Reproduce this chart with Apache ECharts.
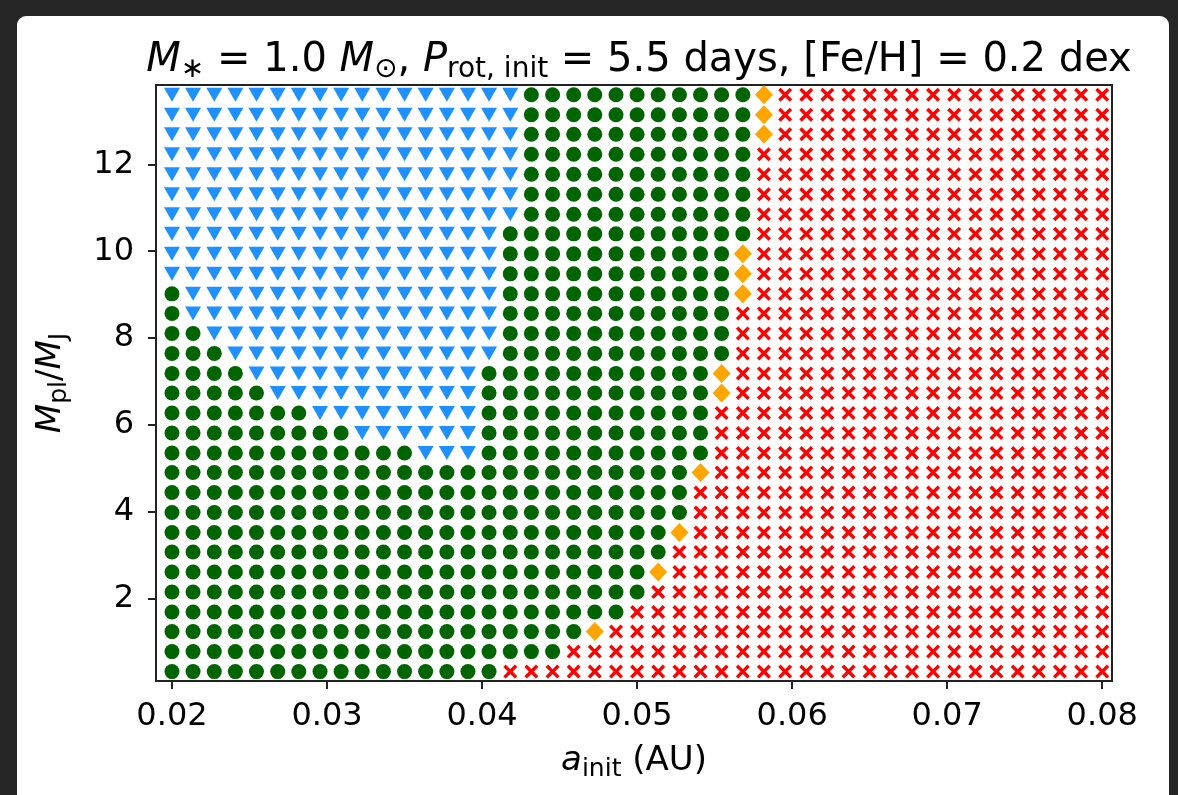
<!DOCTYPE html>
<html>
<head>
<meta charset="utf-8">
<title>Planet outcome grid</title>
<script src="https://cdn.jsdelivr.net/npm/echarts@6/dist/echarts.min.js"></script>
<style>
  html, body { margin: 0; padding: 0; width: 1178px; height: 795px; overflow: hidden;
    background: #262626; }
  #card { position: absolute; left: 17px; top: 16px; width: 1152px; height: 790px;
    background: #ffffff; border-radius: 9px; }
  #chart { position: absolute; left: 0; top: 0; width: 1178px; height: 795px; }
</style>
</head>
<body>
<div id="card"></div>
<div id="chart"></div>
<script>
// Initial semi-major axis grid (AU), one value per column
const aInit = [
  0.02000, 0.02136, 0.02273, 0.02409, 0.02545, 0.02682, 0.02818, 0.02955, 0.03091,
  0.03227, 0.03364, 0.03500, 0.03636, 0.03773, 0.03909, 0.04045, 0.04182, 0.04318,
  0.04455, 0.04591, 0.04727, 0.04864, 0.05000, 0.05136, 0.05273, 0.05409, 0.05545,
  0.05682, 0.05818, 0.05955, 0.06091, 0.06227, 0.06364, 0.06500, 0.06636, 0.06773,
  0.06909, 0.07045, 0.07182, 0.07318, 0.07455, 0.07591, 0.07727, 0.07864, 0.08000
];

// Planet mass grid (Jupiter masses), one value per row, bottom to top
const mPl = [
  0.33, 0.79, 1.25, 1.70, 2.16, 2.62, 3.08, 3.53, 3.99, 4.45,
  4.91, 5.36, 5.82, 6.28, 6.74, 7.19, 7.65, 8.11, 8.57, 9.02,
  9.48, 9.94, 10.40, 10.85, 11.31, 11.77, 12.23, 12.69, 13.14, 13.60
];

// Outcome of each run, as [code, count] runs across the columns of a row.
// T = triangle (blue), G = circle (green), D = diamond (orange), X = cross (red)
// Rows listed bottom to top, matching mPl.
const outcomeRuns = [
  [['G', 16], ['X', 29]],
  [['G', 19], ['X', 26]],
  [['G', 20], ['D', 1], ['X', 24]],
  [['G', 22], ['X', 23]],
  [['G', 23], ['X', 22]],
  [['G', 23], ['D', 1], ['X', 21]],
  [['G', 24], ['X', 21]],
  [['G', 24], ['D', 1], ['X', 20]],
  [['G', 25], ['X', 20]],
  [['G', 25], ['X', 20]],
  [['G', 25], ['D', 1], ['X', 19]],
  [['G', 12], ['T', 3], ['G', 11], ['X', 19]],
  [['G', 9], ['T', 6], ['G', 11], ['X', 19]],
  [['G', 7], ['T', 8], ['G', 11], ['X', 19]],
  [['G', 5], ['T', 10], ['G', 11], ['D', 1], ['X', 18]],
  [['G', 4], ['T', 11], ['G', 11], ['D', 1], ['X', 18]],
  [['G', 3], ['T', 13], ['G', 11], ['X', 18]],
  [['G', 2], ['T', 14], ['G', 11], ['X', 18]],
  [['G', 1], ['T', 15], ['G', 11], ['X', 18]],
  [['G', 1], ['T', 15], ['G', 11], ['D', 1], ['X', 17]],
  [['T', 16], ['G', 11], ['D', 1], ['X', 17]],
  [['T', 16], ['G', 11], ['D', 1], ['X', 17]],
  [['T', 16], ['G', 12], ['X', 17]],
  [['T', 17], ['G', 11], ['X', 17]],
  [['T', 17], ['G', 11], ['X', 17]],
  [['T', 17], ['G', 11], ['X', 17]],
  [['T', 17], ['G', 11], ['X', 17]],
  [['T', 17], ['G', 11], ['D', 1], ['X', 16]],
  [['T', 17], ['G', 11], ['D', 1], ['X', 16]],
  [['T', 17], ['G', 11], ['D', 1], ['X', 16]]
];

// Tick positions and labels
const xTicks = [0.02, 0.03, 0.04, 0.05, 0.06, 0.07, 0.08];
const xTickLabels = ['0.02', '0.03', '0.04', '0.05', '0.06', '0.07', '0.08'];
const yTicks = [2, 4, 6, 8, 10, 12];
const yTickLabels = ['2', '4', '6', '8', '10', '12'];

// Split the grid into one point list per outcome
const points = { T: [], G: [], D: [], X: [] };
outcomeRuns.forEach(function (runs, r) {
  let c = 0;
  runs.forEach(function (run) {
    for (let k = 0; k < run[1]; k++) {
      points[run[0]].push([aInit[c], mPl[r]]);
      c++;
    }
  });
});

const FONT = 'DejaVu Sans';
// Rich-text styles: italic symbol, normal text, lowered subscript
function richSet(size, lineH, subSize) {
  return {
    i: { fontStyle: 'italic', fontWeight: 'normal', fontFamily: FONT, fontSize: size, lineHeight: lineH, color: '#000' },
    n: { fontWeight: 'normal', fontFamily: FONT, fontSize: size, lineHeight: lineH, color: '#000' },
    sub: { fontWeight: 'normal', fontFamily: FONT, fontSize: subSize, lineHeight: subSize, verticalAlign: 'bottom', color: '#000' }
  };
}

const crossPath = 'path://M0,3.5L3.5,0L10,6.5L16.5,0L20,3.5L13.5,10L20,16.5L16.5,20L10,13.5L3.5,20L0,16.5L6.5,10Z';

const chart = echarts.init(document.getElementById('chart'), null, { renderer: 'canvas' });
chart.setOption({
  backgroundColor: 'transparent',
  animation: false,
  title: {
    text: '{i|M}{sub|∗}{n| = 1.0 }{i|M}{sub|⊙}{n|, }{i|P}{sub|rot, init}{n| = 5.5 days, [Fe/H] = 0.2 dex}',
    left: 634,
    top: 33,
    textAlign: 'center',
    textStyle: { fontWeight: 'normal', rich: richSet(40, 46, 28) }
  },
  grid: {
    left: 156, right: 66, top: 85, bottom: 114,
    show: true, borderColor: '#222', borderWidth: 2, backgroundColor: 'transparent'
  },
  xAxis: {
    type: 'value',
    min: 0.01897, max: 0.08063,
    name: '{i|a}{sub|init}{n| (AU)}',
    nameLocation: 'middle',
    nameGap: 59,
    nameTextStyle: { rich: richSet(34, 42, 25) },
    axisLine: { show: true, onZero: false, lineStyle: { color: '#222', width: 2 } },
    axisTick: { show: true, length: 8, lineStyle: { color: '#222', width: 2 }, customValues: xTicks },
    axisLabel: {
      customValues: xTicks,
      formatter: function (v) { return xTickLabels[xTicks.findIndex(function (t) { return Math.abs(t - v) < 1e-6; })]; },
      fontFamily: FONT, fontSize: 32, color: '#000', margin: 20
    },
    splitLine: { show: false }
  },
  yAxis: {
    type: 'value',
    min: 0.114, max: 13.824,
    name: '{i|M}{sub|pl}{n|/}{i|M}{sub|J}',
    nameLocation: 'middle',
    nameRotate: 90,
    nameGap: 84,
    nameTextStyle: { rich: richSet(34, 42, 25) },
    axisLine: { show: true, onZero: false, lineStyle: { color: '#222', width: 2 } },
    axisTick: { show: true, length: 8, lineStyle: { color: '#222', width: 2 }, customValues: yTicks },
    axisLabel: {
      customValues: yTicks,
      formatter: function (v) { return yTickLabels[yTicks.indexOf(Math.round(v))]; },
      fontFamily: FONT, fontSize: 32, color: '#000', margin: 22
    },
    splitLine: { show: false }
  },
  series: [
    {
      name: 'triangle', type: 'scatter', data: points.T,
      symbol: 'triangle', symbolRotate: 180, symbolSize: [16, 14],
      itemStyle: { color: '#1e90ff', opacity: 1 }
    },
    {
      name: 'circle', type: 'scatter', data: points.G,
      symbol: 'circle', symbolSize: 15,
      itemStyle: { color: '#006400', opacity: 1 }
    },
    {
      name: 'diamond', type: 'scatter', data: points.D,
      symbol: 'diamond', symbolSize: [18, 19],
      itemStyle: { color: '#ffa500', opacity: 1 }
    },
    {
      name: 'cross', type: 'scatter', data: points.X,
      symbol: crossPath, symbolSize: 14,
      itemStyle: { color: '#ff0000', opacity: 1 }
    }
  ]
});
</script>
</body>
</html>
